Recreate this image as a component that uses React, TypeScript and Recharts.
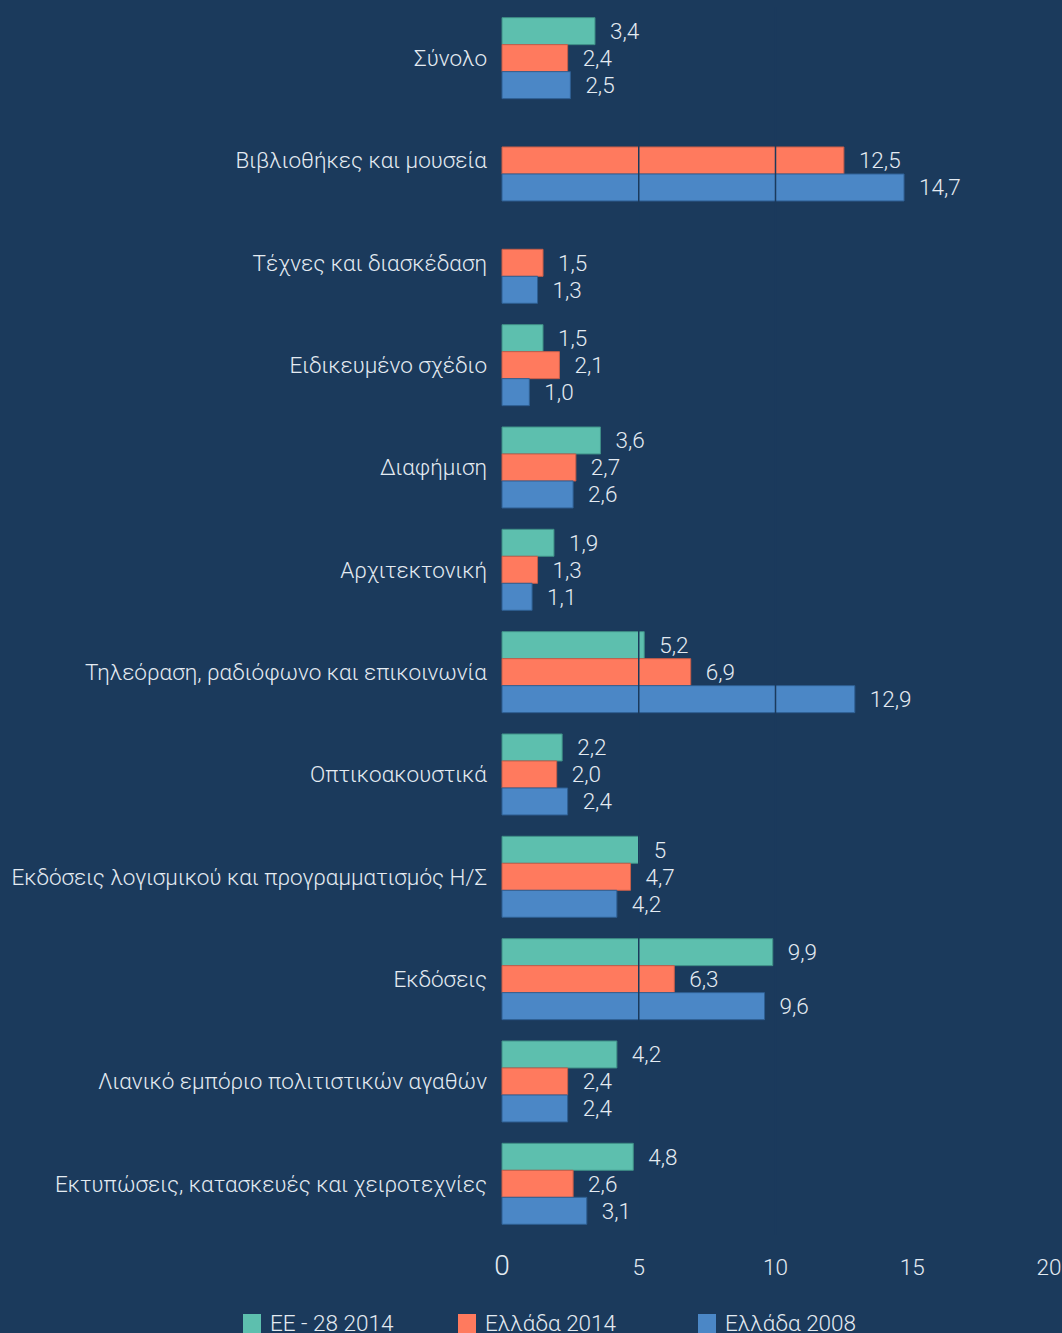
import React from "react";
import { Bar, BarChart, LabelList, ReferenceLine, XAxis, YAxis } from "recharts";

const CATEGORIES = [
  "Σύνολο",
  "Βιβλιοθήκες και μουσεία",
  "Τέχνες και διασκέδαση",
  "Ειδικευμένο σχέδιο",
  "Διαφήμιση",
  "Αρχιτεκτονική",
  "Τηλεόραση, ραδιόφωνο και επικοινωνία",
  "Οπτικοακουστικά",
  "Εκδόσεις λογισμικού και προγραμματισμός Η/Σ",
  "Εκδόσεις",
  "Λιανικό εμπόριο πολιτιστικών αγαθών",
  "Εκτυπώσεις, κατασκευές και χειροτεχνίες",
];

const EU28_2014 = [3.4, null, null, 1.5, 3.6, 1.9, 5.2, 2.2, 5, 9.9, 4.2, 4.8];
const GREECE_2014 = [2.4, 12.5, 1.5, 2.1, 2.7, 1.3, 6.9, 2.0, 4.7, 6.3, 2.4, 2.6];
const GREECE_2008 = [2.5, 14.7, 1.3, 1.0, 2.6, 1.1, 12.9, 2.4, 4.2, 9.6, 2.4, 3.1];

const SERIES_NAMES = ["ΕΕ - 28 2014", "Ελλάδα 2014", "Ελλάδα 2008"];
const X_TICKS = [0, 5, 10, 15, 20];
const GRID_AT = [5, 10];

const BG = "#1b3a5c";
const TEXT = "#e4ebf2";
const FONT = "Roboto, 'Noto Sans', sans-serif";
const FS = 22.5;
const COLORS = ["#5dbfae", "#ff7a5e", "#4b87c6"];
const EDGES = ["#3f8f86", "#c65e4a", "#2f5f92"];

// "5" is printed without a decimal in the source, everything else keeps one
const fmt = (v: number | null, key: string) => {
  if (v == null) return "";
  if (key === "eu" && v === 5) return "5";
  return v.toFixed(1).replace(".", ",");
};

const data = CATEGORIES.map((category, i) => ({
  category,
  eu: EU28_2014[i],
  gr14: GREECE_2014[i],
  gr08: GREECE_2008[i],
  euLabel: fmt(EU28_2014[i], "eu"),
  gr14Label: fmt(GREECE_2014[i], "gr14"),
  gr08Label: fmt(GREECE_2008[i], "gr08"),
}));

const XTick = (props: any) => {
  const { x, y, payload } = props;
  const isZero = payload.value === 0;
  return (
    <text
      x={x}
      y={y}
      dy={40}
      textAnchor="middle"
      fill={TEXT}
      fontFamily={FONT}
      fontWeight={300}
      fontSize={isZero ? 28 : FS}
    >
      {payload.value}
    </text>
  );
};

const SERIES = [
  { key: "eu", label: "euLabel" },
  { key: "gr14", label: "gr14Label" },
  { key: "gr08", label: "gr08Label" },
];

const LEGEND_X = [243, 458, 698];

export default function App() {
  return (
    <div
      style={{
        position: "absolute",
        left: 0,
        top: 0,
        width: 1062,
        height: 1333,
        background: BG,
        overflow: "hidden",
      }}
    >
      <BarChart
        width={1062}
        height={1333}
        data={data}
        layout="vertical"
        margin={{ top: 7, right: 13, bottom: 0, left: 0 }}
        barCategoryGap="10.4%"
        barGap={0}
      >
        <XAxis
          type="number"
          domain={[0, 20]}
          ticks={X_TICKS}
          interval={0}
          axisLine={false}
          tickLine={false}
          tickSize={0}
          tickMargin={0}
          height={98}
          tick={<XTick />}
        />
        <YAxis
          type="category"
          dataKey="category"
          width={502}
          interval={0}
          axisLine={false}
          tickLine={false}
          tickSize={0}
          tickMargin={15}
          tick={{
            fill: TEXT,
            fontSize: FS,
            fontFamily: FONT,
            fontWeight: 300,
          }}
        />
        {SERIES.map((s, i) => (
          <Bar
            key={s.key}
            dataKey={s.key}
            name={SERIES_NAMES[i]}
            fill={COLORS[i]}
            stroke={EDGES[i]}
            strokeWidth={1}
            isAnimationActive={false}
          >
            <LabelList
              dataKey={s.label}
              position="right"
              offset={15}
              fill={TEXT}
              fontSize={FS}
              fontFamily={FONT}
              fontWeight={300}
            />
          </Bar>
        ))}
        {GRID_AT.map((v) => (
          <ReferenceLine key={v} x={v} stroke={BG} strokeWidth={1.5} />
        ))}
      </BarChart>

      <svg
        width={1062}
        height={40}
        style={{ position: "absolute", left: 0, top: 1300 }}
      >
        {SERIES_NAMES.map((name, i) => (
          <g key={name}>
            <rect x={LEGEND_X[i]} y={14} width={18} height={22} fill={COLORS[i]} />
            <text
              x={LEGEND_X[i] + 27}
              y={31}
              fill={TEXT}
              fontFamily={FONT}
              fontWeight={300}
              fontSize={FS}
            >
              {name}
            </text>
          </g>
        ))}
      </svg>
    </div>
  );
}
